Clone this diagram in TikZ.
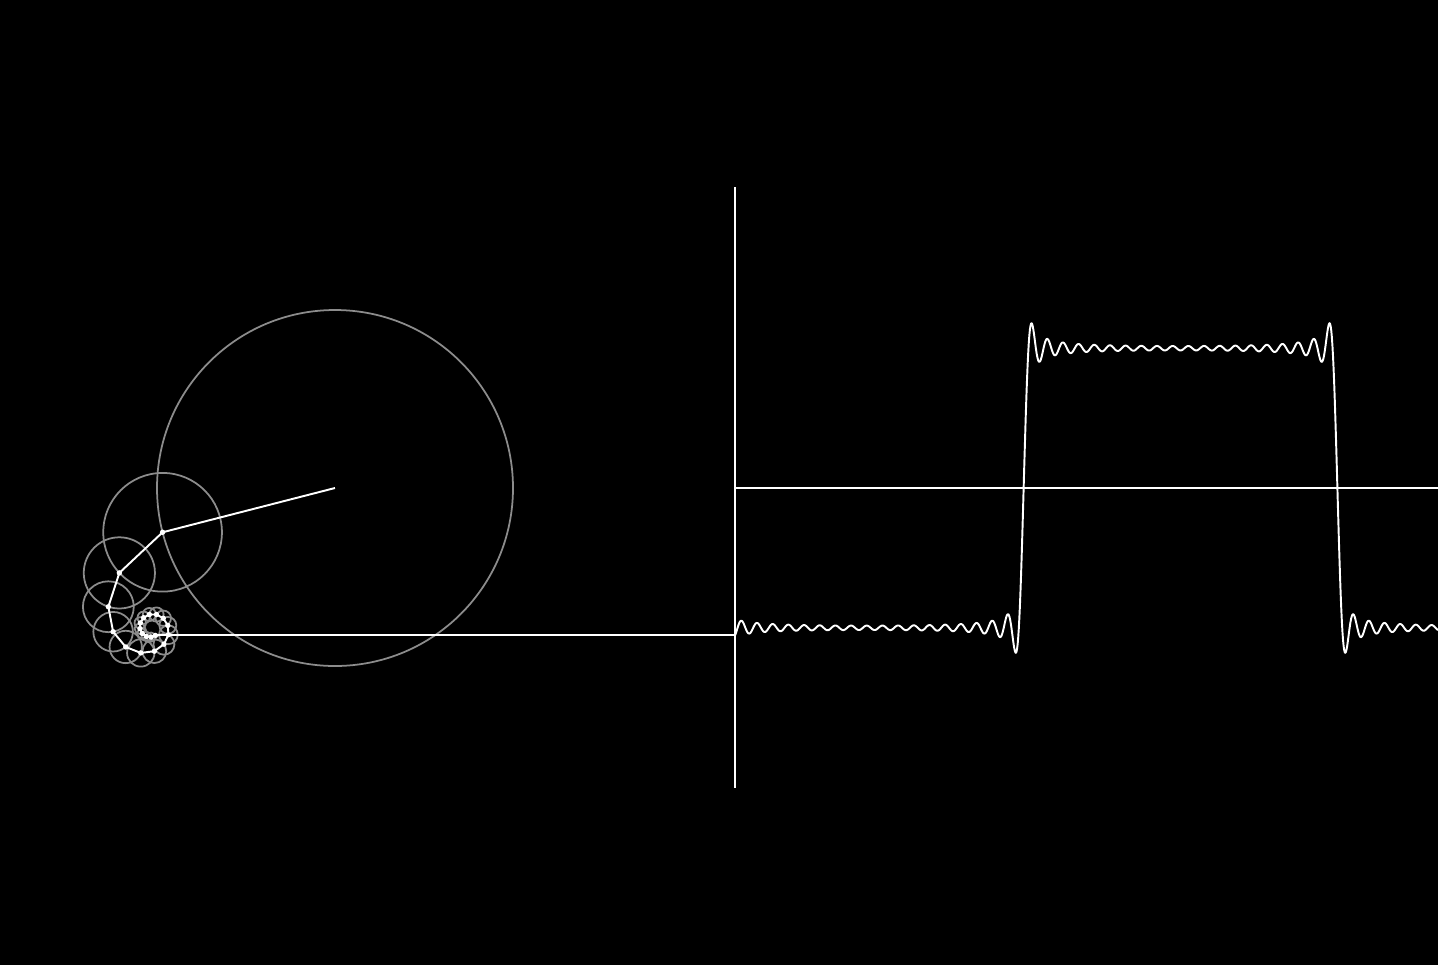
\documentclass[tikz,border=0pt]{standalone}
\usepackage{xcolor}
\usetikzlibrary{calc}
\definecolor{ringGray}{HTML}{8C8C8C}
\tikzset{
  ring line/.style={draw=ringGray,line width=1pt},
  arm line/.style={draw=white,line width=1.1pt,line join=round},
  joint dot/.style={fill=white},
  axis line/.style={draw=white,line width=1.1pt},
  wave line/.style={draw=white,line width=1.1pt,line join=round}
}

\begin{document}
\begin{tikzpicture}[x=0.02cm,y=-0.02cm]
  \useasboundingbox (0,0) rectangle (1438,965);
  \fill[black] (0,0) rectangle (1438,965);
  \coordinate (origin) at (735,488);
  \coordinate (ytop) at (735,187);
  \coordinate (ybot) at (735,788);
  \coordinate (xend) at (1438,488);
  % epicycles, odd harmonics 1,3,...,39
  \coordinate (c0) at (335,488);
  \foreach \k in {1,...,20}{
    \pgfmathtruncatemacro\n{2*\k-1}
    \pgfmathtruncatemacro\prev{\k-1}
    \pgfmathsetmacro\phase{-mod(\n*194.4,360)}
    \pgfmathsetmacro\rad{178/\n}
    \draw[ring line] (c\prev) circle[radius=\rad];
    \coordinate (c\k) at ($(c\prev)+(\phase:\rad)$);
  }
  \draw[arm line] (c0) \foreach \k in {1,...,20}{ -- (c\k)};
  \foreach \k in {1,...,20}
    \fill[joint dot] (c\k) circle[radius=2.7];
  \draw[axis line] (ytop) -- (ybot);
  \draw[axis line] (origin) -- (xend);
  \draw[arm line] (c20) -- (c20 -| origin);
  % partial sum of the square wave
  \def\wavesum{0}
  \foreach \k in {1,...,20}{
    \pgfmathtruncatemacro\n{2*\k-1}
    \pgfmathsetmacro\offs{mod(\n*194.4,360)}
    \xdef\wavesum{\unexpanded\expandafter{\wavesum}%
      +sin(\offs+360*mod(\n*((\noexpand\x-735)/627.5),1))/\n}
  }
  \draw[wave line] plot[domain=735:1438,samples=1200] (\x,{488-178*(\wavesum)});
\end{tikzpicture}
\end{document}
